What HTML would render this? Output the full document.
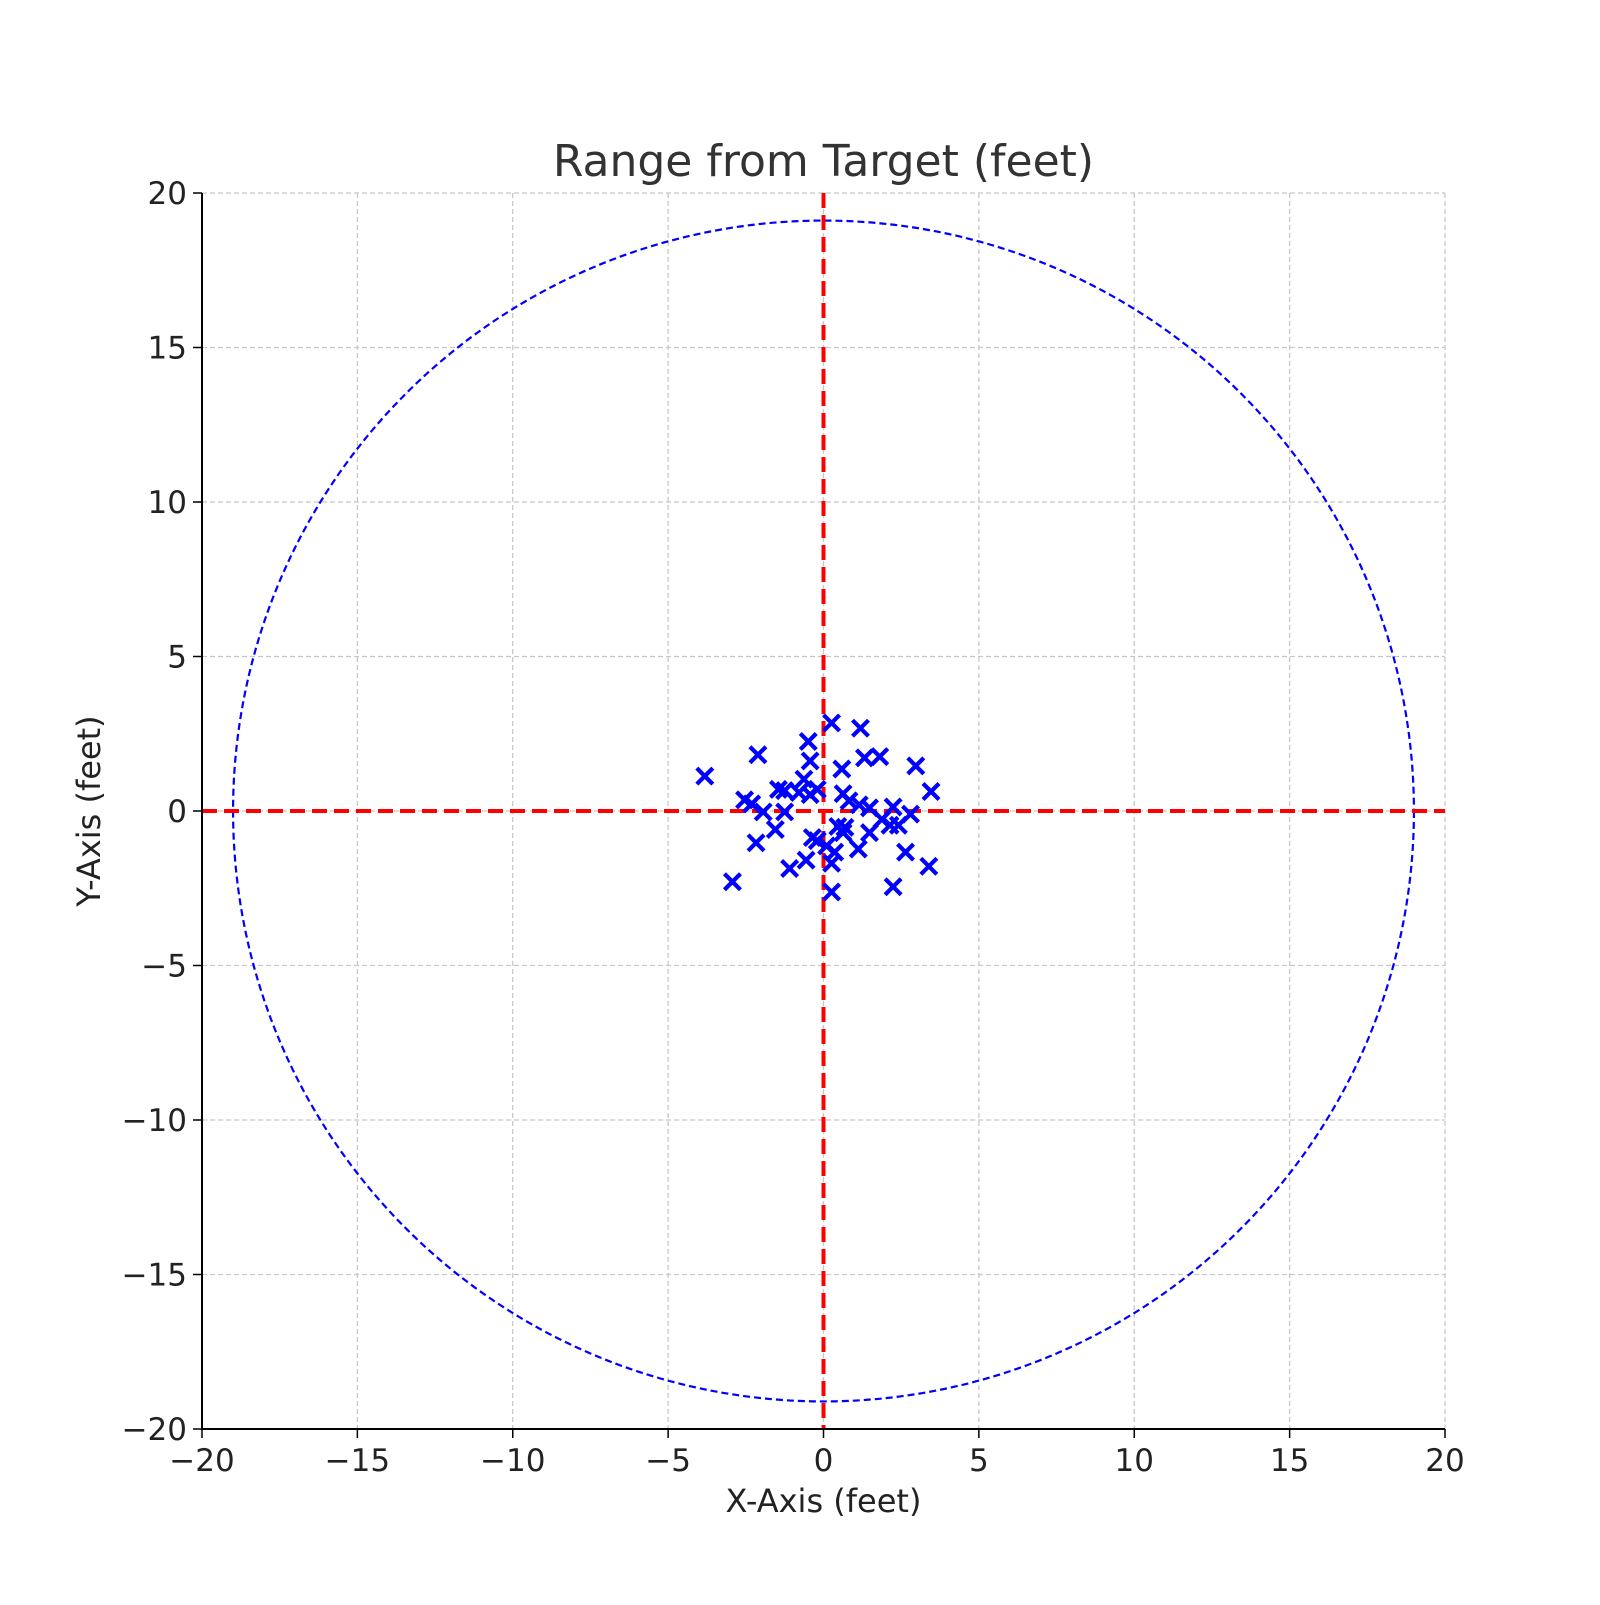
<!DOCTYPE html>
<html><head><meta charset="utf-8"><style>
body{margin:0;background:#fff}
svg text{font-family:"DejaVu Sans","Liberation Sans",sans-serif}
</style></head><body>
<svg id="chart" width="1600" height="1600" viewBox="0 0 1600 1600">
<rect width="1600" height="1600" fill="#fff"/>
<g id="grid"></g><g id="circle"></g><g id="refs"></g><g id="pts"></g><g id="axes"></g>
</svg>
<script>
const xs=[-3.82,-2.11,-0.49,0.26,1.19,-0.43,0.59,1.32,1.81,2.97,3.46,-2.54,-2.31,-1.45,-1.25,-0.79,-0.63,-0.43,-0.20,-1.94,-1.25,0.63,0.82,1.15,1.48,2.24,2.80,1.88,2.14,2.41,-1.55,-2.17,-0.36,-0.20,0.46,0.69,0.63,1.48,0.10,0.36,1.12,2.64,-0.56,0.26,-1.09,3.39,-2.93,2.24,0.26];
const ys=[1.13,1.82,2.25,2.85,2.68,1.62,1.36,1.72,1.76,1.46,0.63,0.36,0.23,0.70,0.66,0.60,1.03,0.53,0.70,-0.03,-0.03,0.56,0.33,0.20,0.10,0.13,-0.10,-0.27,-0.46,-0.46,-0.60,-1.03,-0.86,-0.96,-0.50,-0.53,-0.70,-0.70,-1.13,-1.33,-1.23,-1.33,-1.59,-1.69,-1.86,-1.79,-2.29,-2.45,-2.62];
const ticks=[-20,-15,-10,-5,0,5,10,15,20];
const circleRadius=19;
const L=202,R=1445,T=193,B=1429;
const X=v=>L+(v+20)/40*(R-L), Y=v=>B-(v+20)/40*(B-T);
const NS='http://www.w3.org/2000/svg';
function mk(p,tag,a){const e=document.createElementNS(NS,tag);for(const k in a)e.setAttribute(k,a[k]);document.getElementById(p).appendChild(e);return e;}
const lab=v=>v<0?'\u2212'+(-v):String(v);
ticks.forEach(t=>{
 let g=mk('grid','line',{x1:X(t),x2:X(t),y1:T,y2:B,stroke:'#c8c8c8','stroke-width':1.3,'stroke-dasharray':'5,3'});
 
 
 g=mk('grid','line',{x1:L,x2:R,y1:Y(t),y2:Y(t),stroke:'#c8c8c8','stroke-width':1.3,'stroke-dasharray':'5,3'});
 
 
 let e=mk('axes','line',{x1:X(t),x2:X(t),y1:B,y2:B+9,stroke:'#000','stroke-width':1.5});
 e=mk('axes','text',{x:X(t),y:B+42,'text-anchor':'middle','font-size':31,fill:'#222'});e.textContent=lab(t);
 
 
 mk('axes','line',{x1:L-9,x2:L,y1:Y(t),y2:Y(t),stroke:'#000','stroke-width':1.5});
 e=mk('axes','text',{x:L-15,y:Y(t)+11,'text-anchor':'end','font-size':31,fill:'#222'});e.textContent=lab(t);
 
 
});
let c=mk('circle','circle',{cx:X(0),cy:Y(0),r:circleRadius/40*(R-L),fill:'none',stroke:'#0000ff','stroke-width':2.2,'stroke-dasharray':'7,4'});


let r1=mk('refs','line',{x1:L,x2:R,y1:Y(0),y2:Y(0),stroke:'#ff0000','stroke-width':4,'stroke-dasharray':'15,7'});


let r2=mk('refs','line',{x1:X(0),x2:X(0),y1:T,y2:B,stroke:'#ff0000','stroke-width':4,'stroke-dasharray':'15,7'});


xs.forEach((v,i)=>{const px=X(v),py=Y(ys[i]),s=8;
 const p=mk('pts','path',{d:`M${px-s},${py-s}L${px+s},${py+s}M${px-s},${py+s}L${px+s},${py-s}`,stroke:'#0000ff','stroke-width':4.2});
 
 
});
mk('axes','path',{d:`M${L},${T}L${L},${B}L${R},${B}`,fill:'none',stroke:'#000','stroke-width':2});
let t=mk('axes','text',{x:(L+R)/2,y:176,'text-anchor':'middle','font-size':44,fill:'#333'});t.textContent='Range from Target (feet)';


t=mk('axes','text',{x:(L+R)/2,y:1512,'text-anchor':'middle','font-size':32,fill:'#222'});t.textContent='X-Axis (feet)';


t=mk('axes','text',{x:0,y:0,'text-anchor':'middle','font-size':32,fill:'#222',transform:`translate(100,${(T+B)/2}) rotate(-90)`});t.textContent='Y-Axis (feet)';


</script>
</body></html>
